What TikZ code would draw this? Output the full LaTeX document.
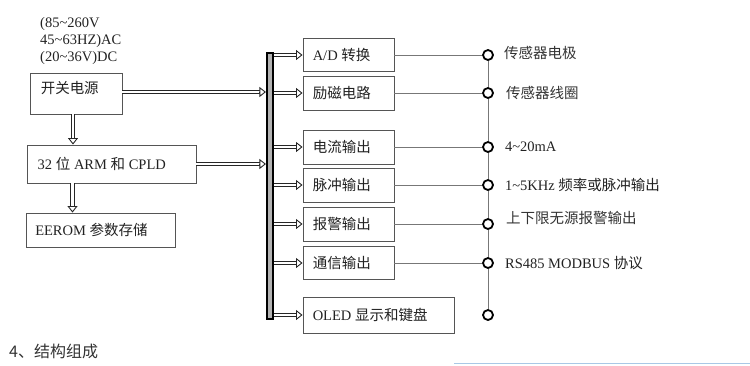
\documentclass[tikz,border=0pt]{standalone}
\usepackage{fontspec}
\setmainfont{Liberation Serif}
\newfontfamily\cjk{Noto Sans CJK SC}
\usetikzlibrary{arrows.meta,calc}
\definecolor{txt}{HTML}{222222}
\definecolor{cjktxt}{HTML}{333333}
\definecolor{boxline}{HTML}{555555}
\definecolor{wire}{HTML}{777777}
\definecolor{rule}{HTML}{A9C8E6}
\newcommand{\zh}[1]{{\cjk #1}}
\newcommand{\darr}[2]{%
  \draw[dshaft] (#1) -- ($(#2)!5pt!(#1)$);
  \draw[dhead] ($(#2)!6.5pt!(#1)$) -- (#2);}
\begin{document}
\begin{tikzpicture}[x=1pt,y=-1pt,
  every node/.style={inner sep=0pt, text=txt, font=\fontsize{14.5}{17}\selectfont},
  blk/.style={draw=boxline, line width=0.9pt, fill=white},
  lbl/.style={anchor=west},
  dshaft/.style={draw=black!85, double=white, double distance=2.8pt, line width=0.95pt},
  dhead/.style={draw=black!85, line width=0.9pt, -{Triangle[open, fill=white, length=6.5pt, width=10pt]}},
  term/.style={circle, draw=black, line width=1.8pt, fill=white, minimum size=10pt},
  wireline/.style={draw=wire, line width=0.8pt}]
\useasboundingbox (0,0) rectangle (750,365);

% left input text
\node[anchor=base west] (in1) at (40,27.5) {(85\textasciitilde260V};
\node[anchor=base west] (in2) at (40,44) {45\textasciitilde63HZ)AC};
\node[anchor=base west] (in3) at (40,61) {(20\textasciitilde36V)DC};

% left boxes
\node[blk, minimum width=92, minimum height=41] (kg) at (76,93.5) {};
\node[lbl] at ([xshift=11]kg.west |- 0,88) {\zh{开关电源}};
\node[blk, minimum width=169, minimum height=38] (arm) at (111.5,164) {};
\node[lbl] at ([xshift=11]arm.west) {32 \zh{位} ARM \zh{和} CPLD};
\node[blk, minimum width=149, minimum height=34] (ee) at (101,230) {};
\node[lbl] at ([xshift=9]ee.west) {EEROM \zh{参数存储}};

% bus
\node[draw=black, line width=1.6pt, fill=black!30, minimum width=6.5, minimum height=266] (bus) at (270,186) {};

% right boxes
\node[blk, minimum width=91, minimum height=33] (ad) at (348.5,55) {};
\node[blk, minimum width=91, minimum height=34] (lc) at (348.5,93) {};
\node[blk, minimum width=91, minimum height=34] (dl) at (348.5,147) {};
\node[blk, minimum width=91, minimum height=34] (mc) at (348.5,185) {};
\node[blk, minimum width=91, minimum height=34] (bj) at (348.5,224) {};
\node[blk, minimum width=91, minimum height=33] (tx) at (348.5,263) {};
\node[blk, minimum width=151, minimum height=36] (ol) at (378.5,315) {};
\node[lbl] at ([xshift=10]ad.west) {A/D \zh{转换}};
\node[lbl] at ([xshift=10]lc.west) {\zh{励磁电路}};
\node[lbl] at ([xshift=10]dl.west) {\zh{电流输出}};
\node[lbl] at ([xshift=10]mc.west) {\zh{脉冲输出}};
\node[lbl] at ([xshift=10]bj.west) {\zh{报警输出}};
\node[lbl] at ([xshift=10]tx.west) {\zh{通信输出}};
\node[lbl] at ([xshift=10]ol.west) {OLED \zh{显示和键盘}};

% double arrows
\coordinate (v1a) at ([xshift=-3]kg.south);
\coordinate (v1b) at (v1a |- arm.north);
\coordinate (v2a) at ([xshift=-39]arm.south);
\coordinate (v2b) at (v2a |- ee.north);
\coordinate (h1a) at (kg.east |- 0,92);
\coordinate (h1b) at (bus.west |- 0,92);
\coordinate (h2b) at (arm.east -| bus.west);
\darr{v1a}{v1b}
\darr{v2a}{v2b}
\darr{h1a}{h1b}
\darr{arm.east}{h2b}
\foreach \b in {ad,lc,dl,mc,bj,tx,ol}{
  \coordinate (s\b) at (\b.west -| bus.east);
  \darr{s\b}{\b.west}
}

% terminals
\node[term] (c1) at (488,55) {};
\node[term] (c2) at (488,93) {};
\node[term] (c3) at (488,147) {};
\node[term] (c4) at (488,185) {};
\node[term] (c5) at (488,224) {};
\node[term] (c6) at (488,263) {};
\node[term] (c7) at (488,315) {};
\draw[wireline] (ad.east) -- (c1.west);
\draw[wireline] (lc.east) -- (c2.west);
\draw[wireline] (dl.east) -- (c3.west);
\draw[wireline] (mc.east) -- (c4.west);
\draw[wireline] (bj.east) -- (c5.west);
\draw[wireline] (tx.east) -- (c6.west);
\draw[wireline] (c1.south) -- (c2.north);
\draw[wireline] (c2.south) -- (c3.north);
\draw[wireline] (c3.south) -- (c4.north);
\draw[wireline] (c4.south) -- (c5.north);
\draw[wireline] (c5.south) -- (c6.north);
\draw[wireline] (c6.south) -- (c7.north);

% terminal labels
\node[lbl, text=cjktxt] at ([xshift=10,yshift=2]c1.east) {\zh{传感器电极}};
\node[lbl, text=cjktxt] at ([xshift=12]c2.east) {\zh{传感器线圈}};
\node[lbl] at ([xshift=11]c3.east) {4\textasciitilde20mA};
\node[lbl] at ([xshift=11]c4.east) {1\textasciitilde5KHz \zh{频率或脉冲输出}};
\node[lbl, text=cjktxt] at ([xshift=12,yshift=6]c5.east) {\zh{上下限无源报警输出}};
\node[lbl] at ([xshift=11]c6.east) {RS485 MODBUS \zh{协议}};

% bottom heading and rule
\node[anchor=west, text=cjktxt, font=\cjk\fontsize{16}{18}\selectfont] (h4) at (9,351) {4、结构组成};
\coordinate (r1) at (454,363.5);
\coordinate (r2) at (750,363.5);
\draw[draw=rule, line width=1.5pt] (r1) -- (r2);
\end{tikzpicture}
\end{document}
